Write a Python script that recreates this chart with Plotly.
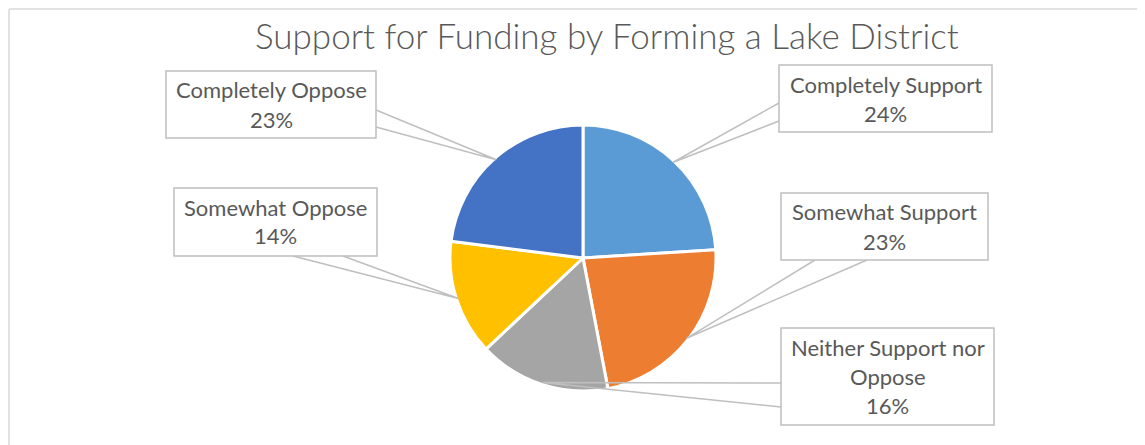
import math
import plotly.graph_objects as go

# data
labels = ["Completely Support", "Somewhat Support", "Neither Support nor Oppose",
          "Somewhat Oppose", "Completely Oppose"]
values = [24, 23, 16, 14, 23]
colors = ["#5B9BD5", "#ED7D31", "#A5A5A5", "#FFC000", "#4472C4"]
title = "Support for Funding by Forming a Lake District"

# label box text lines (how the boxes wrap the category names)
box_lines = {
    "Completely Support": ["Completely Support"],
    "Somewhat Support": ["Somewhat Support"],
    "Neither Support nor Oppose": ["Neither Support nor", "Oppose"],
    "Somewhat Oppose": ["Somewhat Oppose"],
    "Completely Oppose": ["Completely Oppose"],
}

# layout in screen pixels: box (x0, y0, x1, y1) and the two points where the callout leaves the box
W, H = 1145, 445
OFF = 8  # page body margin
CX, CY, R = 583, 258, 131
boxes = {
    "Completely Support": ((779, 65, 992, 132), ((779, 103), (779, 121))),
    "Somewhat Support": ((781, 193, 988, 260), ((815, 260), (867, 260))),
    "Neither Support nor Oppose": ((781, 328, 994, 425), ((781, 383), (781, 407))),
    "Somewhat Oppose": ((174, 188, 377, 256), ((293, 256), (343, 256))),
    "Completely Oppose": ((166, 71, 376, 138), ((376, 110), (376, 127))),
}

TEXT = "#595959"
EDGE = "#BFBFBF"
FONT = "Lato"


def px(x):
    return (x - OFF) / W


def py(y):
    return 1 - (y - OFF) / H


fig = go.Figure(go.Pie(
    labels=labels,
    values=values,
    sort=False,
    direction="clockwise",
    rotation=0,
    marker=dict(colors=colors, line=dict(color="white", width=3)),
    textinfo="none",
    hoverinfo="label+percent",
    domain=dict(x=[px(CX - R - 2), px(CX + R + 2)], y=[py(CY + R + 2), py(CY - R - 2)]),
    showlegend=False,
))

shapes = []
annotations = []

# outer chart frame (top and left edges visible)
shapes.append(dict(type="line", xref="paper", yref="paper", x0=px(OFF + 1), y0=py(OFF + 1), x1=1, y1=py(OFF + 1),
                   line=dict(color="#D9D9D9", width=1.5)))
shapes.append(dict(type="line", xref="paper", yref="paper", x0=px(OFF + 1), y0=py(OFF + 1), x1=px(OFF + 1), y1=0,
                   line=dict(color="#D9D9D9", width=1.5)))

total = sum(values)
start = 0
for lab, val in zip(labels, values):
    mid = (start + val / 2) / total * 2 * math.pi
    start += val
    ax = CX + R * math.sin(mid)
    ay = CY - R * math.cos(mid)
    (x0, y0, x1, y1), (p1, p2) = boxes[lab]
    # callout wedge
    path = "M {},{} L {},{} L {},{}".format(px(p1[0]), py(p1[1]), px(ax), py(ay), px(p2[0]), py(p2[1]))
    shapes.append(dict(type="path", xref="paper", yref="paper", path=path,
                       line=dict(color=EDGE, width=1.5)))
    shapes.append(dict(type="rect", xref="paper", yref="paper",
                       x0=px(x0), y0=py(y0), x1=px(x1), y1=py(y1),
                       fillcolor="white", line=dict(color=EDGE, width=1.5)))
    pct = "{}%".format(round(val / total * 100))
    lines = box_lines[lab] + [pct]
    for i, t in enumerate(lines):
        annotations.append(dict(xref="paper", yref="paper", x=px((x0 + x1) / 2),
                                y=py(y0 + 19 + 29 * i), text=t, showarrow=False,
                                xanchor="center", yanchor="middle",
                                font=dict(family=FONT, size=22, color=TEXT)))

annotations.append(dict(xref="paper", yref="paper", x=px(607), y=py(35), text=title,
                        showarrow=False, xanchor="center", yanchor="middle",
                        font=dict(family=FONT, size=35, color=TEXT, weight=300)))

fig.update_layout(
    width=W, height=H,
    margin=dict(l=0, r=0, t=0, b=0),
    paper_bgcolor="white",
    plot_bgcolor="white",
    shapes=shapes,
    annotations=annotations,
)

fig.write_html("out.html")
